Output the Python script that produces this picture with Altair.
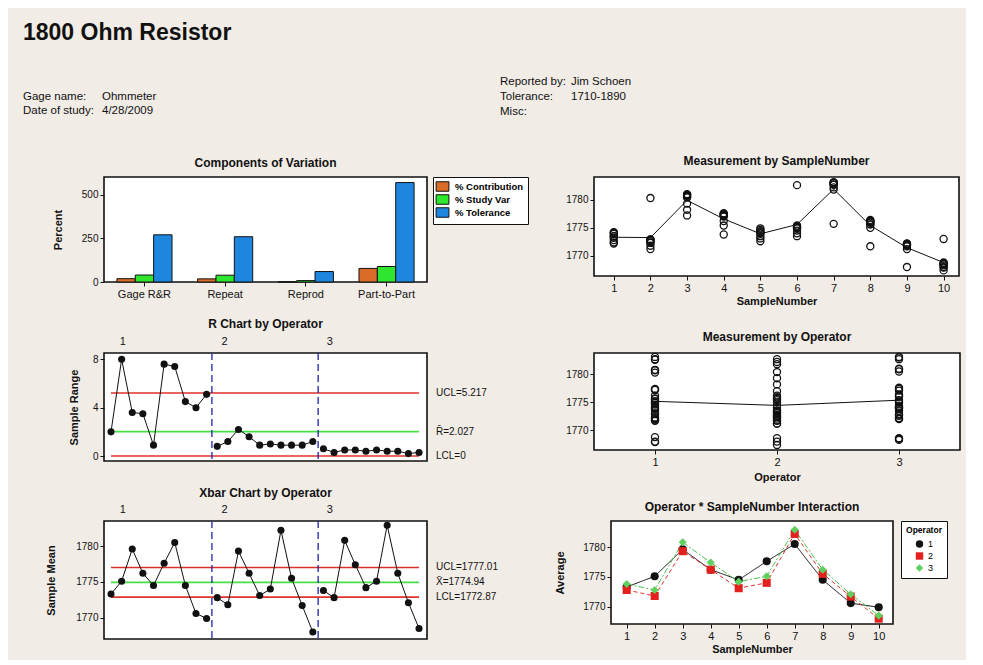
import altair as alt
import pandas as pd

FONT = "Liberation Sans"
BG = "#F1ECE6"
INK = "#111111"
RED = "#E0302C"
GREEN = "#44E044"
DIV_BLUE = "#2222AA"

# ---------------- header text ----------------
report_title = "1800 Ohm Resistor"
gage_keys = ["Gage name:", "Date of study:"]
gage_vals = ["Ohmmeter", "4/28/2009"]
report_keys = ["Reported by:", "Tolerance:", "Misc:"]
report_vals = ["Jim Schoen", "1710-1890", ""]

# ---------------- components of variation ----------------
comp_sources = ["Gage R&R", "Repeat", "Reprod", "Part-to-Part"]
comp_series = ["% Contribution", "% Study Var", "% Tolerance"]
pct_contribution = [19, 18, 0.6, 78]
pct_study_var = [40, 39, 8, 89]
pct_tolerance = [271, 260, 60, 571]
comp_colors = ["#D96C28", "#2EE62E", "#1F86E0"]

# ---------------- study data ----------------
operators = ["1", "2", "3"]
sample_numbers = [1, 2, 3, 4, 5, 6, 7, 8, 9, 10]

meas_op1 = [
    [1772.2, 1773.5, 1774.2], [1780.3, 1772.3, 1772.9], [1777.2, 1780.8, 1780.7],
    [1773.8, 1777.3, 1777.4], [1774.0, 1774.6, 1774.9], [1782.6, 1775.0, 1775.2],
    [1775.7, 1782.7, 1783.1], [1771.7, 1776.2, 1775.6], [1768.0, 1772.0, 1771.8],
    [1773.0, 1767.9, 1768.8],
]
meas_op2 = [
    [1772.4, 1772.8, 1773.2], [1771.2, 1771.8, 1772.4], [1778.2, 1779.3, 1780.4],
    [1775.4, 1776.2, 1777.0], [1772.6, 1773.1, 1773.5], [1773.5, 1774.0, 1774.5],
    [1781.8, 1782.2, 1782.7], [1775.0, 1775.6, 1775.9], [1771.2, 1771.7, 1772.1],
    [1767.4, 1768.0, 1768.6],
]
meas_op3 = [
    [1773.5, 1773.9, 1774.1], [1772.6, 1772.8, 1772.9], [1780.5, 1780.9, 1781.0],
    [1777.1, 1777.4, 1777.6], [1774.0, 1774.2, 1774.4], [1774.9, 1775.1, 1775.4],
    [1782.7, 1783.0, 1783.1], [1776.0, 1776.2, 1776.4], [1772.0, 1772.1, 1772.2],
    [1768.3, 1768.5, 1768.6],
]

ranges_op1 = [2.0, 8.0, 3.6, 3.5, 0.9, 7.6, 7.4, 4.5, 4.0, 5.1]
ranges_op2 = [0.8, 1.2, 2.2, 1.6, 0.9, 1.0, 0.9, 0.9, 0.9, 1.2]
ranges_op3 = [0.6, 0.3, 0.5, 0.5, 0.4, 0.5, 0.4, 0.4, 0.2, 0.3]

xbar_op1 = [1773.3, 1775.1, 1779.6, 1776.2, 1774.5, 1777.6, 1780.5, 1774.5, 1770.6, 1769.9]
xbar_op2 = [1772.8, 1771.8, 1779.3, 1776.2, 1773.1, 1774.0, 1782.2, 1775.5, 1771.7, 1768.0]
xbar_op3 = [1773.8, 1772.8, 1780.8, 1777.4, 1774.2, 1775.1, 1782.9, 1776.2, 1772.1, 1768.5]

r_limits = [5.217, 2.027, 0.0]
r_limit_labels = ["UCL=5.217", "R\u0304=2.027", "LCL=0"]
xbar_limits = [1777.01, 1774.94, 1772.87]
xbar_limit_labels = ["UCL=1777.01", "X\u0304=1774.94", "LCL=1772.87"]
limit_kinds = ["limit", "center", "limit"]
stage_boundaries = [10.5, 20.5]
op_label_pos = [2.1, 11.7, 21.6]

LEFT_W = 323
RECT_SYMBOL = "M-1.35,-1H1.35V1H-1.35Z"

# ---------------- header chart ----------------
dummy = pd.DataFrame({"k": [0]})


def txt(s, x, y, size=11.5, weight="normal"):
    return alt.Chart(dummy).mark_text(
        text=s, align="left", baseline="middle", font=FONT, fontSize=size,
        fontWeight=weight, color=INK
    ).encode(x=alt.value(x), y=alt.value(y))


head_layers = [txt(report_title, -81, 22, 23, "bold")]
for i, (k, v) in enumerate(zip(gage_keys, gage_vals)):
    head_layers.append(txt(k, -81, 86 + 14 * i))
    head_layers.append(txt(v, -2, 86 + 14 * i))
for i, (k, v) in enumerate(zip(report_keys, report_vals)):
    head_layers.append(txt(k, 396, 71 + 15 * i))
    if v:
        head_layers.append(txt(v, 467, 71 + 15 * i))

header = alt.layer(*head_layers).properties(
    width=500, height=140,
    view=alt.ViewBackground(fill="transparent", stroke="transparent"),
)

# ---------------- components of variation ----------------
comp_df = pd.DataFrame({
    "Source": [s for _ in comp_series for s in comp_sources],
    "Series": [k for k in comp_series for _ in comp_sources],
    "Percent": pct_contribution + pct_study_var + pct_tolerance,
})

comp = alt.Chart(comp_df).mark_bar(stroke=INK, strokeWidth=1).encode(
    x=alt.X("Source:N", sort=comp_sources,
            scale=alt.Scale(paddingInner=0.317, paddingOuter=0.16),
            axis=alt.Axis(title=None, labelAngle=0, labelFontSize=11, labelPadding=2)),
    xOffset=alt.XOffset("Series:N", sort=comp_series,
                        scale=alt.Scale(paddingInner=0, paddingOuter=0)),
    y=alt.Y("Percent:Q", scale=alt.Scale(domain=[0, 603], nice=False),
            axis=alt.Axis(values=[0, 250, 500], title="Percent", titlePadding=18)),
    color=alt.Color("Series:N", sort=comp_series,
                    scale=alt.Scale(domain=comp_series, range=comp_colors),
                    legend=alt.Legend(title=None, orient="right", offset=6, padding=4,
                                      strokeColor=INK, fillColor="white",
                                      labelFontSize=9.5, labelFontWeight="bold", labelFont=FONT,
                                      symbolType=RECT_SYMBOL, symbolSize=90,
                                      symbolStrokeColor=INK, symbolStrokeWidth=1,
                                      rowPadding=-3, labelOffset=7)),
).properties(width=LEFT_W, height=105,
             title=alt.TitleParams("Components of Variation", offset=7))


# ---------------- control charts ----------------
def ctrl_chart(values, field, ydomain, yticks, ytitle, limits, labels, title_text,
               height, title_offset, title_pad):
    df = pd.DataFrame({
        "Index": list(range(1, 31)),
        "Operator": [o for o in operators for _ in sample_numbers],
        field: values,
    })
    xs = alt.Scale(domain=[0.34, 30.75], nice=False, zero=False)
    ys = alt.Scale(domain=ydomain, nice=False, zero=False)
    yaxis = alt.Axis(values=yticks, format="d", title=ytitle, titlePadding=title_pad)

    def X(f):
        return alt.X(f"{f}:Q", scale=xs, axis=None)

    def Y(f):
        return alt.Y(f"{f}:Q", scale=ys, axis=yaxis)

    lim = pd.DataFrame({"value": limits, "label": labels, "kind": limit_kinds,
                        "start": [1] * 3, "end": [30] * 3})
    red = alt.Chart(lim).transform_filter("datum.kind == 'limit'").mark_rule(
        color=RED, strokeWidth=1.6).encode(x=X("start"), x2="end:Q", y=Y("value"))
    green = alt.Chart(lim).transform_filter("datum.kind == 'center'").mark_rule(
        color=GREEN, strokeWidth=1.8).encode(x=X("start"), x2="end:Q", y=Y("value"))
    div = alt.Chart(pd.DataFrame({"b": stage_boundaries})).mark_rule(
        color=DIV_BLUE, strokeDash=[7, 4], strokeWidth=1.3).encode(x=X("b"))
    line = alt.Chart(df).mark_line(color=INK, strokeWidth=1).encode(
        x=X("Index"), y=Y(field), detail="Operator:N")
    pts = alt.Chart(df).mark_circle(color=INK, size=50, opacity=1).encode(
        x=X("Index"), y=Y(field))
    lbl = alt.Chart(lim).mark_text(align="left", baseline="middle", fontSize=10,
                                   font=FONT, color=INK).encode(
        x=alt.value(LEFT_W + 9), y=Y("value"), text="label:N")
    ops = alt.Chart(pd.DataFrame({"pos": op_label_pos, "op": operators})).mark_text(
        baseline="middle", fontSize=11, font=FONT, color=INK).encode(
        x=X("pos"), y=alt.value(-11), text="op:N")
    return alt.layer(red, green, div, line, pts, lbl, ops).properties(
        width=LEFT_W, height=height,
        title=alt.TitleParams(title_text, offset=title_offset))


rchart = ctrl_chart(ranges_op1 + ranges_op2 + ranges_op3, "Range", [-0.41, 8.52], [0, 4, 8],
                    "Sample Range", r_limits, r_limit_labels, "R Chart by Operator",
                    108, 5, 13)
xbar = ctrl_chart(xbar_op1 + xbar_op2 + xbar_op3, "Mean", [1767.03, 1783.5],
                  [1770, 1775, 1780], "Sample Mean", xbar_limits, xbar_limit_labels,
                  "Xbar Chart by Operator", 118, 4, 19)

# ---------------- measurement tables ----------------
rows = []
for op, table in zip(operators, [meas_op1, meas_op2, meas_op3]):
    for s, trials in zip(sample_numbers, table):
        for v in trials:
            rows.append({"Operator": int(op), "Sample": s, "Measurement": v})
meas_df = pd.DataFrame(rows)

ys_mbs = alt.Scale(domain=[1766.4, 1784.05], nice=False, zero=False)
xs_mbs = alt.Scale(domain=[0.46, 10.42], nice=False, zero=False)
y_ax = alt.Axis(values=[1770, 1775, 1780], title=None, format="d")
x_mbs = alt.X("Sample:Q", scale=xs_mbs,
              axis=alt.Axis(values=sample_numbers, title="SampleNumber", labelFontSize=11,
                            format="d", titlePadding=2))
mbs = alt.layer(
    alt.Chart(meas_df).mark_line(color=INK, strokeWidth=1).encode(
        x=x_mbs, y=alt.Y("mean(Measurement):Q", scale=ys_mbs, axis=y_ax)),
    alt.Chart(meas_df).mark_point(shape="circle", filled=False, color=INK, size=50,
                                  strokeWidth=1.3, opacity=1).encode(
        x=x_mbs, y=alt.Y("Measurement:Q", scale=ys_mbs, axis=y_ax)),
).properties(width=365, height=99,
             title=alt.TitleParams("Measurement by SampleNumber", offset=8))

ys_mbo = alt.Scale(domain=[1766.5, 1783.8], nice=False, zero=False)
xs_mbo = alt.Scale(domain=[0.5, 3.5], nice=False, zero=False)
x_mbo = alt.X("Operator:Q", scale=xs_mbo,
              axis=alt.Axis(values=[1, 2, 3], title="Operator", labelFontSize=11,
                            format="d", titlePadding=4))
mbo = alt.layer(
    alt.Chart(meas_df).mark_line(color=INK, strokeWidth=1).encode(
        x=x_mbo, y=alt.Y("mean(Measurement):Q", scale=ys_mbo, axis=y_ax)),
    alt.Chart(meas_df).mark_point(shape="circle", filled=False, color=INK, size=50,
                                  strokeWidth=1.3, opacity=1).encode(
        x=x_mbo, y=alt.Y("Measurement:Q", scale=ys_mbo, axis=y_ax)),
).properties(width=366, height=97,
             title=alt.TitleParams("Measurement by Operator", offset=7))

# ---------------- interaction ----------------
inter_df = pd.DataFrame({
    "Sample": sample_numbers * 3,
    "Operator": [o for o in operators for _ in sample_numbers],
    "Average": xbar_op1 + xbar_op2 + xbar_op3,
})
ys_int = alt.Scale(domain=[1767.1, 1784.36], nice=False, zero=False)
xs_int = alt.Scale(domain=[0.44, 10.51], nice=False, zero=False)
x_int = alt.X("Sample:Q", scale=xs_int,
              axis=alt.Axis(values=sample_numbers, title="SampleNumber", labelFontSize=11,
                            format="d", titlePadding=2))
y_int = alt.Y("Average:Q", scale=ys_int,
              axis=alt.Axis(values=[1770, 1775, 1780], title="Average", format="d",
                            titlePadding=17))
line_styles = {"1": (INK, [1, 0]), "2": (RED, [4, 3]), "3": ("#4DBF4D", [6, 2, 2, 2])}
inter_layers = []
for op in operators:
    col, dash = line_styles[op]
    inter_layers.append(
        alt.Chart(inter_df).transform_filter(f"datum.Operator == '{op}'").mark_line(
            color=col, strokeWidth=1, strokeDash=dash).encode(x=x_int, y=y_int))
inter_layers.append(
    alt.Chart(inter_df).mark_point(filled=True, size=65, opacity=1).encode(
        x=x_int, y=y_int,
        color=alt.Color("Operator:N",
                        scale=alt.Scale(domain=operators, range=[INK, "#E4201E", "#5FCF5F"]),
                        legend=alt.Legend(title="Operator", orient="right", offset=8,
                                          padding=5, strokeColor=INK, fillColor="white",
                                          titleFontSize=8.5, titleFont=FONT,
                                          titleFontWeight="bold", labelFontSize=9,
                                          labelFont=FONT, symbolSize=55, rowPadding=2,
                                          titleAnchor="middle", symbolStrokeWidth=0)),
        shape=alt.Shape("Operator:N",
                        scale=alt.Scale(domain=operators,
                                        range=["circle", "square", "diamond"]))))
inter = alt.layer(*inter_layers).properties(
    width=282, height=103,
    title=alt.TitleParams("Operator * SampleNumber Interaction", offset=7))

# ---------------- layout ----------------
row1 = alt.hconcat(comp, mbs, spacing=34).resolve_scale(color="independent", shape="independent")
row2 = alt.hconcat(rchart, mbo, spacing=76)
row3 = alt.hconcat(xbar, inter, spacing=54).resolve_scale(color="independent", shape="independent")

upper = alt.vconcat(header, row1, spacing=2).resolve_scale(color="independent", shape="independent")
mid = alt.vconcat(upper, row2, spacing=10).resolve_scale(color="independent", shape="independent")
chart = alt.vconcat(mid, row3, spacing=3).resolve_scale(
    color="independent", shape="independent"
).properties(
    background=BG, padding={"left": 14, "top": 2, "right": 5, "bottom": 5}
).configure_view(
    fill="white", stroke=INK, strokeWidth=1.6
).configure_axis(
    grid=False, domain=False, tickColor=INK, tickSize=4, tickWidth=1,
    labelFont=FONT, labelFontSize=10, labelColor=INK, labelPadding=2,
    titleFont=FONT, titleFontSize=11, titleFontWeight="bold", titleColor=INK
).configure_title(
    font=FONT, fontSize=12, fontWeight="bold", color=INK, anchor="middle"
)

chart.save("out.html", embed_options={"renderer": "svg", "actions": False})
